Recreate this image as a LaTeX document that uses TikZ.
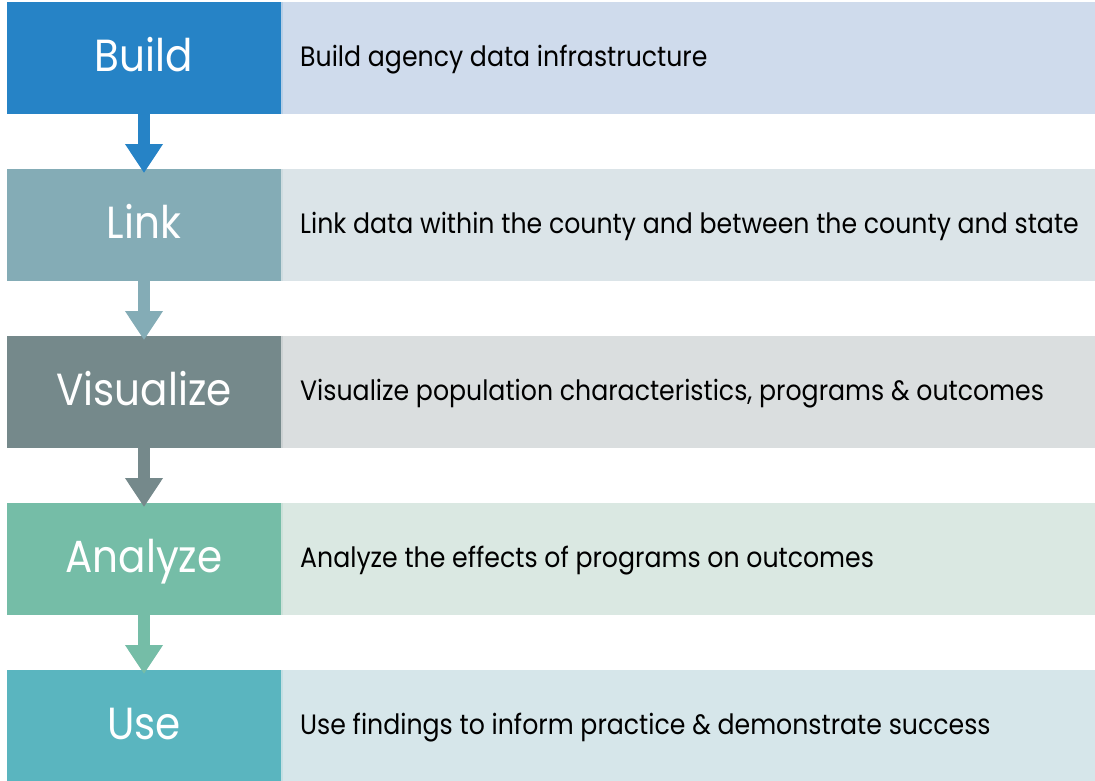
\documentclass[tikz,border=0pt]{standalone}
\usepackage{fontspec}
\setmainfont[FakeStretch=0.9]{Poppins}
\usetikzlibrary{positioning,arrows.meta}
\definecolor{buildc}{HTML}{2683C6}
\definecolor{linkc}{HTML}{84ACB6}
\definecolor{visc}{HTML}{75898B}
\definecolor{anac}{HTML}{75BDA7}
\definecolor{usec}{HTML}{5AB5BF}
\definecolor{buildl}{HTML}{CFDBEC}
\definecolor{linkl}{HTML}{DBE4E8}
\definecolor{visl}{HTML}{DADEDF}
\definecolor{anal}{HTML}{DAE8E2}
\definecolor{usel}{HTML}{D6E6EA}

\begin{document}
\begin{tikzpicture}[x=1pt,y=1pt,
  stepbox/.style={rectangle, minimum width=274pt, minimum height=112pt, inner sep=0pt, outer sep=0pt,
    text=white, text height=36pt, text depth=10pt, font=\fontsize{45}{50}\selectfont},
  descbox/.style={rectangle, minimum width=814pt, minimum height=112pt, inner sep=0pt, outer sep=0pt},
  desctext/.style={inner sep=0pt, text height=22pt, text depth=6pt, font=\fontsize{28}{32}\selectfont},
  flow/.style={line width=12pt, -{Triangle[length=29pt,width=36pt]}}]
\useasboundingbox (0,0) rectangle (1095,-780);
% steps on the left
\node[stepbox, fill=buildc] (build) at (144,-58) {Build};
\node[stepbox, fill=linkc, below=55pt of build] (link) {Link};
\node[stepbox, fill=visc, below=55pt of link] (vis) {Visualize};
\node[stepbox, fill=anac, below=55pt of vis] (ana) {Analyze};
\node[stepbox, fill=usec, below=55pt of ana] (use) {Use};
% descriptions on the right
\node[descbox, fill=buildl, right=0pt of build] (buildd) {};
\node[descbox, fill=linkl, right=0pt of link] (linkd) {};
\node[descbox, fill=visl, right=0pt of vis] (visd) {};
\node[descbox, fill=anal, right=0pt of ana] (anad) {};
\node[descbox, fill=usel, right=0pt of use] (used) {};
\draw[line width=2pt, buildl!85!buildc] ([xshift=1pt]buildd.north west) -- ([xshift=1pt]buildd.south west);
\draw[line width=2pt, linkl!85!linkc] ([xshift=1pt]linkd.north west) -- ([xshift=1pt]linkd.south west);
\draw[line width=2pt, visl!85!visc] ([xshift=1pt]visd.north west) -- ([xshift=1pt]visd.south west);
\draw[line width=2pt, anal!85!anac] ([xshift=1pt]anad.north west) -- ([xshift=1pt]anad.south west);
\draw[line width=2pt, usel!85!usec] ([xshift=1pt]used.north west) -- ([xshift=1pt]used.south west);
\node[desctext, right=19pt of buildd.west] (buildt) {Build agency data infrastructure};
\node[desctext, right=19pt of linkd.west] (linkt) {Link data within the county and between the county and state};
\node[desctext, right=19pt of visd.west] (vist) {Visualize population characteristics, programs \& outcomes};
\node[desctext, right=19pt of anad.west] (anat) {Analyze the effects of programs on outcomes};
\node[desctext, right=19pt of used.west] (uset) {Use findings to inform practice \& demonstrate success};
% arrows between steps
\draw[flow, buildc] (build.south) -- ([yshift=-4pt]link.north);
\draw[flow, linkc] (link.south) -- ([yshift=-4pt]vis.north);
\draw[flow, visc] (vis.south) -- ([yshift=-4pt]ana.north);
\draw[flow, anac] (ana.south) -- ([yshift=-4pt]use.north);
\end{tikzpicture}
\end{document}
